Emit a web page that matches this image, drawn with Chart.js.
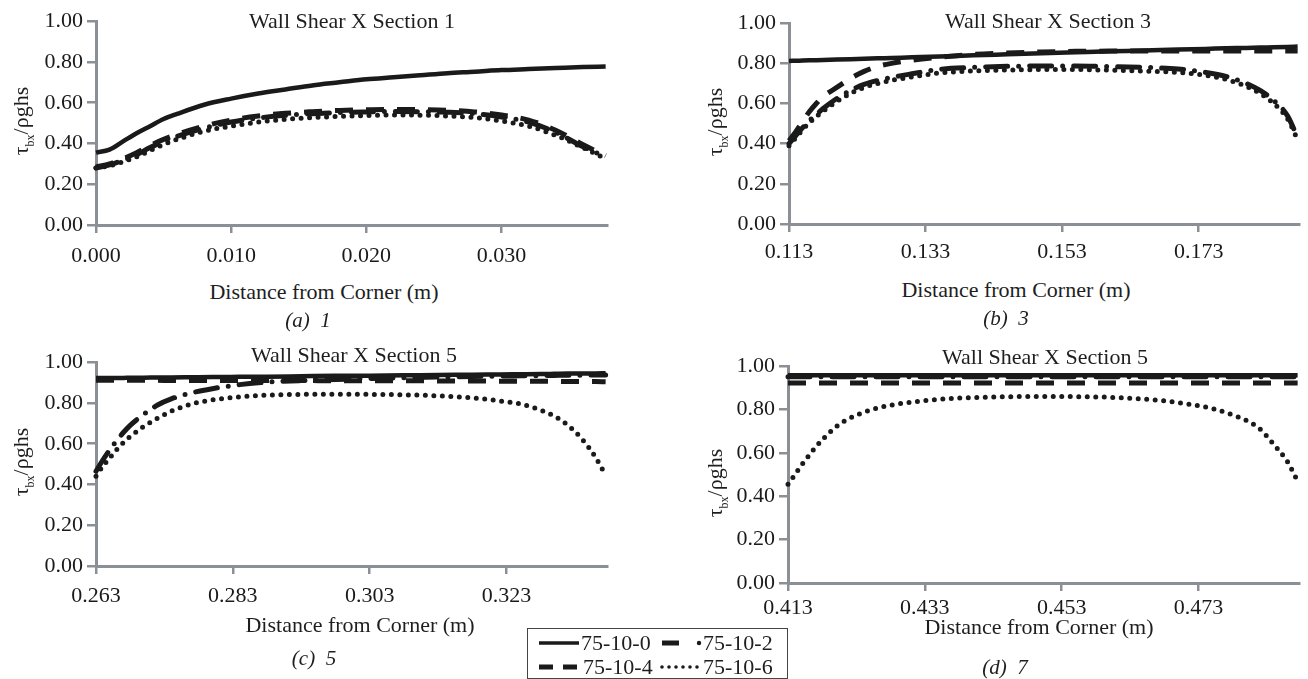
<!DOCTYPE html>
<html>
<head>
<meta charset="utf-8">
<script src="https://cdn.jsdelivr.net/npm/chart.js@4.4.1/dist/chart.umd.min.js"></script>
<style>
  body { margin: 0; background: #fff; }
  #page { position: relative; width: 1308px; height: 679px; overflow: hidden;
          font-family: "Liberation Serif", "Times New Roman", serif; color: #1e1e1e; }
  canvas { position: absolute; }
  .lbl { position: absolute; white-space: nowrap; transform: translate(-50%, -50%);
         font-size: 22px; line-height: 1; }
  .cap { font-style: italic; font-size: 21px; }
  .ylab { transform: translate(-50%, -50%) rotate(-90deg); }
  .ylab sub { font-size: 12px; }
  #legend { position: absolute; left: 527px; top: 628px; width: 259px; height: 49px;
            border: 1px solid #444; background: #fff; }
</style>
</head>
<body>
<div id="page">
  <canvas id="chartA"></canvas>
  <canvas id="chartB"></canvas>
  <canvas id="chartC"></canvas>
  <canvas id="chartD"></canvas>

  <div class="lbl" style="left:352px;top:21px">Wall Shear X Section 1</div>
  <div class="lbl" style="left:1048px;top:21px">Wall Shear X Section 3</div>
  <div class="lbl" style="left:354px;top:355px">Wall Shear X Section 5</div>
  <div class="lbl" style="left:1045px;top:357px">Wall Shear X Section 5</div>

  <div class="lbl ylab" style="left:23px;top:121px">τ<sub>bx</sub>/ρghs</div>
  <div class="lbl ylab" style="left:717px;top:122px">τ<sub>bx</sub>/ρghs</div>
  <div class="lbl ylab" style="left:23px;top:462px">τ<sub>bx</sub>/ρghs</div>
  <div class="lbl ylab" style="left:717px;top:483px">τ<sub>bx</sub>/ρghs</div>

  <div class="lbl" style="left:324px;top:292px">Distance from Corner (m)</div>
  <div class="lbl" style="left:1016px;top:290px">Distance from Corner (m)</div>
  <div class="lbl" style="left:360px;top:625px">Distance from Corner (m)</div>
  <div class="lbl" style="left:1039px;top:627px">Distance from Corner (m)</div>

  <div class="lbl cap" style="left:308px;top:320px">(a)&nbsp; 1</div>
  <div class="lbl cap" style="left:1006px;top:318px">(b)&nbsp; 3</div>
  <div class="lbl cap" style="left:314px;top:658px">(c)&nbsp; 5</div>
  <div class="lbl cap" style="left:1005px;top:667px">(d)&nbsp; 7</div>

  <div id="legend">
    <svg width="259" height="49" style="position:absolute;left:0;top:0">
      <line x1="11" y1="14" x2="51" y2="14" stroke="#1a1a1a" stroke-width="3.5"/>
      <line x1="134" y1="14" x2="151" y2="14" stroke="#1a1a1a" stroke-width="5"/>
      <circle cx="171" cy="14" r="2.2" fill="#1a1a1a"/>
      <line x1="11" y1="38" x2="51" y2="38" stroke="#1a1a1a" stroke-width="5" stroke-dasharray="14,10"/>
      <line x1="134" y1="38" x2="171" y2="38" stroke="#1a1a1a" stroke-width="3.6" stroke-linecap="round" stroke-dasharray="0,7"/>
      <g font-family="Liberation Serif, serif" font-size="22" fill="#1e1e1e">
        <text x="53" y="21">75-10-0</text>
        <text x="175" y="21">75-10-2</text>
        <text x="55" y="45">75-10-4</text>
        <text x="175" y="45">75-10-6</text>
      </g>
    </svg>
  </div>
</div>

<script>
// ---- data ----
var seriesNames = ["75-10-0", "75-10-2", "75-10-4", "75-10-6"];
var yTicks = [0, 0.2, 0.4, 0.6, 0.8, 1.0];

// (a) section 1
var xA = [0, 0.001, 0.002, 0.003, 0.004, 0.005, 0.006, 0.008, 0.010, 0.012, 0.014, 0.016,
          0.018, 0.020, 0.022, 0.024, 0.026, 0.028, 0.030, 0.032, 0.034, 0.036, 0.0377];
var a0 = [0.355, 0.37, 0.41, 0.45, 0.485, 0.52, 0.545, 0.59, 0.62, 0.645, 0.665, 0.685,
          0.70, 0.715, 0.725, 0.735, 0.745, 0.752, 0.760, 0.765, 0.770, 0.775, 0.778];
var a2 = [0.28, 0.295, 0.318, 0.345, 0.38, 0.41, 0.435, 0.475, 0.505, 0.525, 0.538, 0.546,
          0.552, 0.555, 0.557, 0.556, 0.553, 0.546, 0.53, 0.505, 0.455, 0.385, 0.335];
var a4 = [0.285, 0.30, 0.325, 0.355, 0.39, 0.42, 0.445, 0.485, 0.515, 0.535, 0.548, 0.556,
          0.562, 0.565, 0.567, 0.566, 0.563, 0.555, 0.54, 0.515, 0.465, 0.395, 0.34];
var a6 = [0.28, 0.29, 0.31, 0.335, 0.365, 0.395, 0.42, 0.46, 0.485, 0.505, 0.518, 0.527,
          0.533, 0.537, 0.54, 0.539, 0.535, 0.527, 0.51, 0.485, 0.44, 0.38, 0.325];
var xTicksA = ["0.000", "0.010", "0.020", "0.030"];

// (b) section 3
var xB = [0.113, 0.114, 0.115, 0.116, 0.117, 0.118, 0.120, 0.122, 0.124, 0.126, 0.128, 0.131,
          0.135, 0.140, 0.145, 0.150, 0.155, 0.160, 0.165, 0.170, 0.174, 0.177, 0.180, 0.182,
          0.184, 0.186, 0.1875];
var b0 = [0.812, 0.813, 0.814, 0.815, 0.816, 0.817, 0.819, 0.821, 0.823, 0.825, 0.827, 0.830,
          0.834, 0.840, 0.845, 0.850, 0.855, 0.860, 0.864, 0.869, 0.872, 0.875, 0.877, 0.879,
          0.880, 0.882, 0.884];
var b2 = [0.40, 0.44, 0.48, 0.515, 0.545, 0.575, 0.625, 0.665, 0.695, 0.715, 0.73, 0.748,
          0.77, 0.78, 0.785, 0.787, 0.787, 0.784, 0.78, 0.772, 0.755, 0.735, 0.70, 0.665,
          0.615, 0.54, 0.43];
var b4 = [0.415, 0.46, 0.51, 0.56, 0.60, 0.635, 0.68, 0.725, 0.76, 0.785, 0.80, 0.815,
          0.83, 0.845, 0.852, 0.857, 0.86, 0.861, 0.862, 0.862, 0.862, 0.862, 0.862, 0.862,
          0.862, 0.862, 0.862];
var b6 = [0.39, 0.43, 0.47, 0.505, 0.535, 0.562, 0.61, 0.65, 0.68, 0.70, 0.715, 0.732,
          0.752, 0.762, 0.767, 0.769, 0.769, 0.766, 0.762, 0.755, 0.74, 0.72, 0.685, 0.65,
          0.60, 0.525, 0.42];
var xTicksB = ["0.113", "0.133", "0.153", "0.173"];

// (c) section 5
var xC = [0.263, 0.264, 0.265, 0.266, 0.267, 0.268, 0.270, 0.272, 0.274, 0.277, 0.280, 0.284,
          0.288, 0.293, 0.298, 0.303, 0.308, 0.313, 0.318, 0.322, 0.325, 0.328, 0.330, 0.332,
          0.334, 0.336, 0.3375];
var c0 = [0.922, 0.922, 0.923, 0.923, 0.923, 0.924, 0.924, 0.925, 0.925, 0.926, 0.927, 0.928,
          0.929, 0.931, 0.933, 0.934, 0.936, 0.937, 0.939, 0.940, 0.941, 0.942, 0.943, 0.944,
          0.944, 0.945, 0.946];
var c2 = [0.465, 0.52, 0.57, 0.615, 0.655, 0.69, 0.745, 0.79, 0.82, 0.85, 0.87, 0.89,
          0.902, 0.91, 0.915, 0.92, 0.924, 0.927, 0.93, 0.932, 0.933, 0.934, 0.935, 0.936,
          0.936, 0.937, 0.937];
var c4 = [0.911, 0.911, 0.911, 0.911, 0.911, 0.911, 0.911, 0.911, 0.91, 0.91, 0.91, 0.91,
          0.91, 0.91, 0.909, 0.909, 0.909, 0.908, 0.908, 0.907, 0.907, 0.906, 0.906, 0.905,
          0.905, 0.905, 0.904];
var c6 = [0.44, 0.49, 0.53, 0.57, 0.605, 0.635, 0.685, 0.725, 0.76, 0.795, 0.815, 0.83,
          0.838, 0.842, 0.843, 0.842, 0.84, 0.835, 0.825, 0.81, 0.795, 0.765, 0.735, 0.69,
          0.625, 0.535, 0.445];
var xTicksC = ["0.263", "0.283", "0.303", "0.323"];

// (d) section 7
var xD = [0.413, 0.414, 0.415, 0.416, 0.417, 0.418, 0.420, 0.422, 0.425, 0.428, 0.432, 0.437,
          0.443, 0.450, 0.457, 0.463, 0.468, 0.472, 0.475, 0.478, 0.480, 0.482, 0.484, 0.486,
          0.4875];
var d0 = [0.958, 0.958, 0.958, 0.958, 0.958, 0.958, 0.958, 0.958, 0.958, 0.958, 0.958, 0.958,
          0.958, 0.958, 0.958, 0.958, 0.958, 0.958, 0.958, 0.958, 0.958, 0.958, 0.958, 0.958,
          0.958];
var d2 = [0.951, 0.951, 0.951, 0.951, 0.951, 0.951, 0.951, 0.951, 0.951, 0.951, 0.951, 0.951,
          0.951, 0.951, 0.951, 0.951, 0.951, 0.951, 0.951, 0.951, 0.951, 0.951, 0.951, 0.951,
          0.951];
var d4 = [0.922, 0.922, 0.922, 0.922, 0.922, 0.922, 0.922, 0.922, 0.922, 0.922, 0.922, 0.922,
          0.922, 0.922, 0.922, 0.922, 0.922, 0.922, 0.922, 0.922, 0.922, 0.922, 0.922, 0.922,
          0.922];
var d6 = [0.455, 0.50, 0.545, 0.585, 0.625, 0.66, 0.72, 0.76, 0.797, 0.82, 0.838, 0.851,
          0.858, 0.86, 0.859, 0.852, 0.84, 0.823, 0.805, 0.775, 0.75, 0.71, 0.64, 0.56, 0.47];
var xTicksD = ["0.413", "0.433", "0.453", "0.473"];

// ---- styling ----
var ink = "#1a1a1a";
var axisGray = "#8b9096";
var fontFam = "'Liberation Serif', 'Times New Roman', serif";
var lineStyles = [
  { width: 4.5, dash: [], cap: "butt" },            // 75-10-0 solid
  { width: 5, dash: [22, 11, 0, 11], cap: "round" }, // 75-10-2 dash-dot
  { width: 5, dash: [18, 13], cap: "butt" },         // 75-10-4 dashed
  { width: 5, dash: [0, 8.5], cap: "round" }         // 75-10-6 dotted
];

var YW = 70, XH = 50, PT = 14, PR = 14;

/*
  draws one panel; plot = {l, r, t, b} is where the axes should sit on the page
*/
function plotPanel(id, plot, xs, ys, xmin, xmax, xTickLabels, xPad) {
  var cv = document.getElementById(id);
  var w = plot.r - plot.l + YW + PR;
  var h = plot.b - plot.t + PT + XH;
  cv.width = w; cv.height = h;
  cv.style.left = (plot.l - YW) + "px";
  cv.style.top = (plot.t - PT) + "px";
  cv.style.width = w + "px";
  cv.style.height = h + "px";

  var datasets = ys.map(function (arr, i) {
    var st = lineStyles[i];
    return {
      label: seriesNames[i],
      data: xs.map(function (x, j) { return { x: x, y: arr[j] }; }),
      borderColor: ink,
      borderWidth: st.width,
      borderDash: st.dash,
      borderCapStyle: st.cap,
      pointRadius: 0,
      fill: false,
      cubicInterpolationMode: "monotone",
      clip: 12
    };
  });
  // draw the dotted one first and the solid last so the top band reads right
  datasets.reverse();

  new Chart(cv, {
    type: "line",
    data: { datasets: datasets },
    options: {
      responsive: false,
      animation: false,
      devicePixelRatio: 1,
      layout: { padding: { top: PT, right: PR, left: 0, bottom: 0 } },
      plugins: { legend: { display: false }, tooltip: { enabled: false } },
      scales: {
        x: {
          type: "linear", min: xmin, max: xmax,
          afterFit: function (s) { s.height = XH; },
          afterBuildTicks: function (s) {
            s.ticks = xTickLabels.map(function (t) { return { value: parseFloat(t) }; });
          },
          ticks: {
            autoSkip: false, maxRotation: 0, padding: xPad, color: ink,
            font: { family: fontFam, size: 22 },
            callback: function (v, i) { return xTickLabels[i]; }
          },
          grid: { drawOnChartArea: false, drawTicks: true, tickLength: 8, color: axisGray, lineWidth: 2.5 },
          border: { display: true, color: axisGray, width: 3 }
        },
        y: {
          min: 0, max: 1,
          afterFit: function (s) { s.width = YW; },
          afterBuildTicks: function (s) {
            s.ticks = yTicks.map(function (v) { return { value: v }; });
          },
          ticks: {
            padding: 4, color: ink,
            font: { family: fontFam, size: 22 },
            callback: function (v) { return Number(v).toFixed(2); }
          },
          grid: { drawOnChartArea: false, drawTicks: true, tickLength: 9, color: axisGray, lineWidth: 2.5 },
          border: { display: true, color: axisGray, width: 3 }
        }
      }
    }
  });
}

plotPanel("chartA", { l: 96, r: 607, t: 18, b: 225 }, xA, [a0, a2, a4, a6], 0, 0.0378, xTicksA, 10);
plotPanel("chartB", { l: 789, r: 1299, t: 20, b: 224 }, xB, [b0, b2, b4, b6], 0.113, 0.1877, xTicksB, 7);
plotPanel("chartC", { l: 96, r: 607, t: 359, b: 566 }, xC, [c0, c2, c4, c6], 0.263, 0.3377, xTicksC, 9);
plotPanel("chartD", { l: 788, r: 1299, t: 363, b: 583 }, xD, [d0, d2, d4, d6], 0.413, 0.4877, xTicksD, 4);
</script>
</body>
</html>
